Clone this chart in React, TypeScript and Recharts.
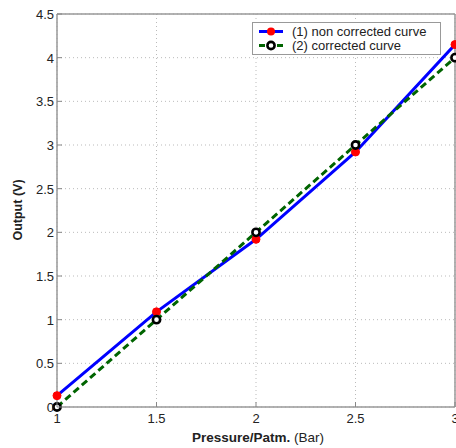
import React from "react";
import { LineChart, Line, XAxis, YAxis, CartesianGrid, ReferenceLine } from "recharts";

const pressure = [1, 1.5, 2, 2.5, 3];
const nonCorrected = [0.13, 1.09, 1.92, 2.92, 4.15];
const corrected = [0, 1, 2, 3, 4];
const xTicks = [1, 1.5, 2, 2.5, 3];
const yTicks = [0, 0.5, 1, 1.5, 2, 2.5, 3, 3.5, 4, 4.5];
const legendLabels = ["(1) non corrected curve", "(2) corrected curve"];

const data = pressure.map((p, i) => ({ p, nc: nonCorrected[i], c: corrected[i] }));

const FONT = "'Liberation Sans', Arial, sans-serif";

const XTick = (props: any) => {
  const { x, payload } = props;
  return (
    <g>
      <line x1={x} x2={x} y1={407} y2={402} stroke="#888" strokeWidth={1} />
      <text x={x} y={423} textAnchor="middle" fontSize={13} fontFamily={FONT} fill="#222">
        {payload.value}
      </text>
    </g>
  );
};

const YTick = (props: any) => {
  const { y, payload } = props;
  return (
    <g>
      <line x1={57} x2={62} y1={y} y2={y} stroke="#888" strokeWidth={1} />
      <text x={54} y={y + 5} textAnchor="end" fontSize={13} fontFamily={FONT} fill="#222">
        {payload.value}
      </text>
    </g>
  );
};

const RedDot = (props: any) => {
  const { cx, cy, index } = props;
  return <circle key={"r" + index} cx={cx} cy={cy} r={4} fill="#ff0000" stroke="#ff0000" />;
};

const BlackDot = (props: any) => {
  const { cx, cy, index } = props;
  return <circle key={"b" + index} cx={cx} cy={cy} r={3.6} fill="#ffffff" stroke="#000000" strokeWidth={2.6} />;
};

export default function App() {
  return (
    <div style={{ position: "absolute", left: 0, top: 0, width: 456, height: 448, background: "#fff" }}>
      <LineChart width={456} height={448} data={data} margin={{ top: 14, right: 1, left: 0, bottom: 0 }}>
        <CartesianGrid stroke="#bbb" strokeDasharray="1 3" />
        <XAxis
          dataKey="p"
          type="number"
          domain={[1, 3]}
          ticks={xTicks}
          height={41}
          stroke="#999"
          strokeWidth={1.5}
          tickLine={false}
          tick={<XTick />}
          interval={0}
        />
        <YAxis
          type="number"
          domain={[0, 4.5]}
          ticks={yTicks}
          width={57}
          stroke="#999"
          strokeWidth={1.5}
          tickLine={false}
          tick={<YTick />}
          interval={0}
        />
        <ReferenceLine y={4.5} stroke="#999" strokeWidth={1.5} />
        <ReferenceLine x={3} stroke="#999" strokeWidth={1.5} />
        <Line dataKey="nc" stroke="#0000ff" strokeWidth={3} dot={<RedDot />} isAnimationActive={false} />
        <Line
          dataKey="c"
          stroke="#006400"
          strokeWidth={3}
          strokeDasharray="7 4"
          dot={<BlackDot />}
          isAnimationActive={false}
        />
        <g>
          <rect x={252.5} y={22.5} width={188} height={32} fill="#fff" stroke="#999" strokeWidth={1} />
          <line x1={259} x2={283} y1={31.5} y2={31.5} stroke="#0000ff" strokeWidth={3} />
          <circle cx={271} cy={31.5} r={4} fill="#ff0000" />
          <text x={292} y={36} fontSize={13} fontFamily={FONT} fill="#222">{legendLabels[0]}</text>
          <line x1={259} x2={283} y1={45.5} y2={45.5} stroke="#006400" strokeWidth={3} strokeDasharray="6 3" />
          <circle cx={271} cy={45.5} r={3.6} fill="#fff" stroke="#000" strokeWidth={2.6} />
          <text x={292} y={50} fontSize={13} fontFamily={FONT} fill="#222">{legendLabels[1]}</text>
        </g>
        <text x={22} y={210} transform="rotate(-90 22 210)" textAnchor="middle" fontSize={12.5} fontWeight="bold" fontFamily={FONT} fill="#222">
          Output (V)
        </text>
        <text x={258} y={442} textAnchor="middle" fontSize={13.5} fontFamily={FONT} fill="#222">
          <tspan fontWeight="bold">Pressure/Patm.</tspan>
          <tspan> (Bar)</tspan>
        </text>
      </LineChart>
    </div>
  );
}
